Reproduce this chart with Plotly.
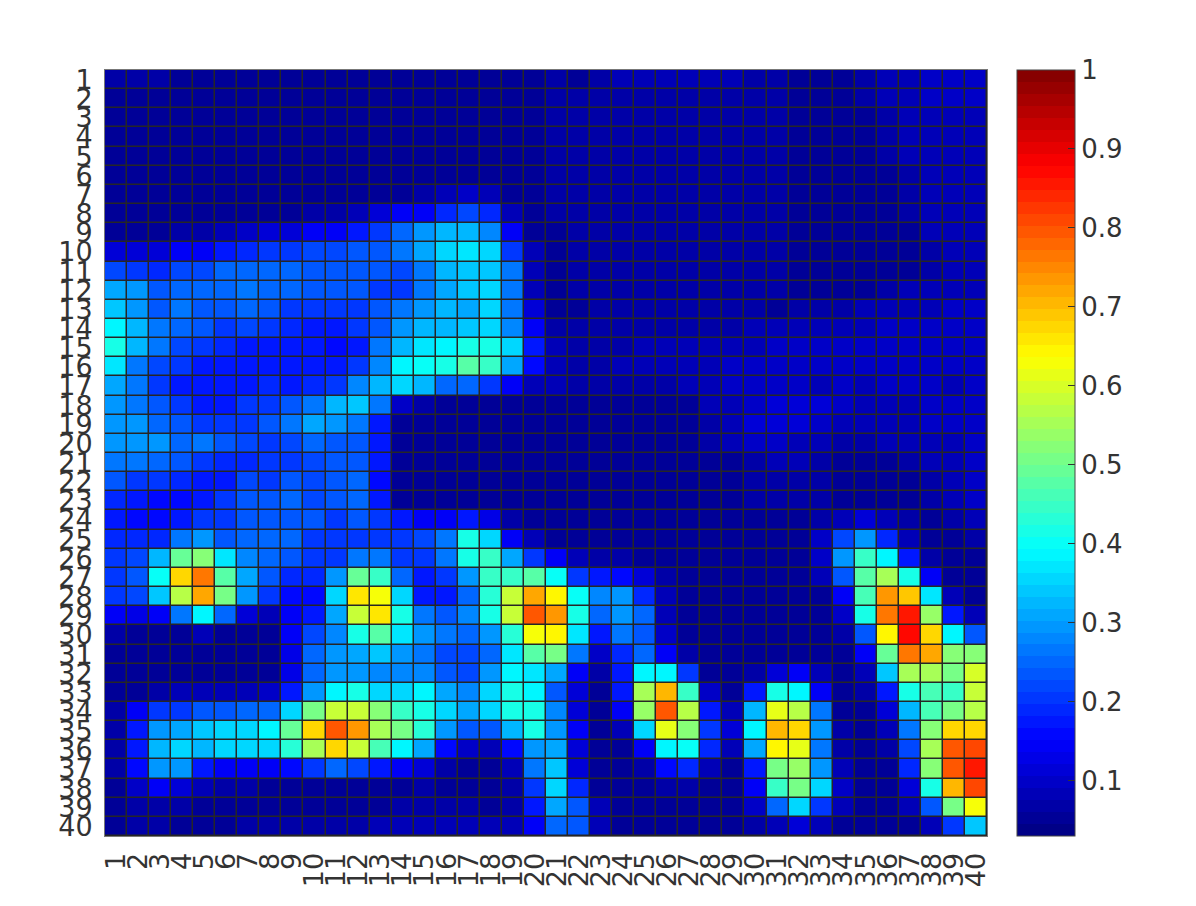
import plotly.graph_objects as go

### Tick labels ###
labels = [str(i) for i in range(1, 41)]
cbar_ticks = [0.1, 0.2, 0.3, 0.4, 0.5, 0.6, 0.7, 0.8, 0.9, 1]
cbar_text = ["0.1", "0.2", "0.3", "0.4", "0.5", "0.6", "0.7", "0.8", "0.9", "1"]

### Matrix rows, left half + right half ###
r01 = [.07,.07,.07,.06,.06,.06,.06,.06,.06,.06,.06,.06,.06,.06,.06,.06,.06,.06,.06,.06] + [.07,.06,.07,.08,.08,.08,.08,.08,.08,.07,.07,.06,.06,.06,.07,.08,.09,.10,.10,.10]
r02 = [.06,.06,.06,.06,.06,.06,.06,.06,.06,.06,.06,.06,.06,.06,.06,.06,.06,.06,.06,.06] + [.07,.07,.07,.07,.07,.07,.07,.07,.07,.07,.07,.06,.06,.06,.07,.08,.09,.10,.10,.10]
r03 = [.06,.06,.06,.06,.06,.06,.06,.06,.06,.06,.06,.06,.06,.06,.06,.06,.06,.06,.06,.06] + [.07,.07,.07,.07,.07,.07,.07,.07,.07,.07,.07,.06,.06,.06,.06,.07,.08,.09,.09,.09]
r04 = [.06,.06,.06,.06,.06,.06,.06,.06,.06,.06,.06,.06,.06,.06,.06,.06,.06,.06,.06,.06] + [.07,.07,.07,.07,.07,.07,.07,.07,.07,.07,.07,.06,.06,.06,.06,.07,.08,.09,.09,.09]
r05 = [.06,.06,.06,.06,.06,.06,.06,.06,.06,.06,.06,.06,.06,.06,.06,.06,.06,.06,.06,.06] + [.07,.07,.07,.07,.07,.07,.07,.07,.07,.07,.07,.06,.06,.06,.06,.07,.08,.09,.09,.09]
r06 = [.06,.06,.06,.06,.06,.06,.06,.06,.06,.06,.06,.06,.06,.05,.05,.05,.06,.06,.06,.06] + [.07,.07,.07,.07,.07,.07,.07,.07,.07,.07,.07,.06,.06,.06,.05,.06,.07,.09,.09,.09]
r07 = [.06,.06,.06,.06,.06,.06,.06,.06,.05,.05,.05,.05,.06,.06,.07,.09,.10,.09,.06,.05] + [.07,.07,.07,.07,.07,.07,.07,.07,.07,.07,.07,.06,.06,.06,.05,.06,.07,.09,.09,.09]
r08 = [.06,.05,.05,.05,.05,.05,.05,.06,.06,.07,.07,.08,.11,.14,.15,.19,.22,.19,.09,.05] + [.07,.07,.07,.07,.07,.07,.07,.07,.07,.07,.07,.06,.06,.06,.05,.06,.07,.09,.09,.09]
r09 = [.06,.06,.06,.07,.07,.08,.10,.11,.12,.14,.15,.17,.20,.25,.29,.33,.33,.28,.14,.06] + [.06,.07,.07,.07,.07,.07,.07,.07,.07,.07,.07,.06,.06,.06,.05,.05,.06,.09,.09,.09]
r10 = [.11,.11,.12,.14,.15,.17,.19,.21,.21,.22,.22,.24,.24,.27,.31,.35,.37,.35,.20,.09] + [.06,.07,.07,.07,.07,.07,.07,.07,.07,.07,.07,.06,.06,.06,.05,.05,.06,.07,.09,.09]
r11 = [.22,.21,.19,.22,.22,.25,.25,.25,.25,.24,.24,.24,.23,.22,.26,.32,.34,.34,.27,.09] + [.06,.07,.07,.07,.07,.07,.07,.07,.07,.07,.07,.06,.06,.06,.05,.05,.06,.07,.09,.09]
r12 = [.31,.29,.24,.25,.25,.25,.26,.25,.25,.23,.24,.24,.21,.20,.26,.31,.34,.35,.27,.09] + [.06,.07,.07,.07,.07,.07,.07,.07,.07,.07,.07,.06,.06,.06,.06,.07,.08,.08,.09,.09]
r13 = [.34,.30,.24,.26,.24,.24,.25,.24,.21,.20,.20,.20,.23,.26,.30,.32,.31,.35,.27,.11] + [.06,.05,.07,.07,.07,.07,.07,.07,.07,.07,.06,.07,.07,.07,.08,.08,.08,.09,.10,.10]
r14 = [.39,.32,.27,.25,.24,.21,.22,.21,.19,.17,.17,.20,.24,.30,.33,.32,.34,.36,.28,.14] + [.07,.07,.07,.07,.07,.07,.07,.07,.07,.08,.08,.08,.08,.08,.09,.10,.10,.10,.10,.10]
r15 = [.41,.32,.27,.22,.21,.19,.18,.18,.18,.18,.16,.18,.26,.32,.37,.38,.41,.41,.36,.18] + [.09,.07,.07,.07,.08,.08,.08,.09,.09,.09,.10,.10,.10,.10,.10,.10,.10,.10,.10,.10]
r16 = [.37,.27,.22,.20,.18,.17,.18,.18,.18,.17,.18,.20,.28,.38,.40,.42,.47,.45,.31,.16] + [.09,.07,.07,.08,.08,.08,.08,.09,.10,.10,.10,.10,.10,.10,.10,.10,.10,.10,.10,.10]
r17 = [.31,.27,.21,.18,.17,.17,.18,.19,.18,.19,.21,.28,.32,.35,.32,.25,.25,.21,.15,.09] + [.08,.07,.07,.07,.07,.07,.08,.09,.10,.10,.10,.10,.09,.10,.09,.10,.10,.10,.09,.10]
r18 = [.29,.27,.24,.20,.17,.17,.20,.20,.24,.26,.32,.34,.27,.10,.07,.05,.05,.05,.05,.05] + [.06,.06,.06,.05,.05,.05,.05,.08,.09,.10,.11,.11,.11,.10,.09,.09,.09,.10,.10,.10]
r19 = [.29,.30,.25,.24,.20,.20,.21,.24,.27,.31,.29,.27,.18,.05,.05,.05,.05,.05,.05,.05] + [.06,.06,.06,.05,.05,.05,.05,.07,.09,.11,.12,.11,.10,.09,.08,.08,.09,.10,.10,.10]
r20 = [.30,.30,.29,.25,.26,.24,.22,.20,.22,.25,.24,.24,.17,.05,.05,.05,.05,.05,.05,.05] + [.05,.05,.05,.05,.05,.05,.05,.07,.09,.10,.10,.09,.08,.07,.07,.08,.09,.09,.09,.10]
r21 = [.27,.27,.25,.23,.20,.19,.19,.21,.21,.22,.23,.23,.17,.05,.05,.05,.05,.05,.05,.05] + [.05,.05,.05,.05,.05,.05,.05,.05,.06,.07,.08,.08,.07,.06,.06,.06,.07,.08,.09,.10]
r22 = [.23,.20,.20,.19,.18,.17,.22,.21,.23,.22,.24,.25,.16,.05,.05,.05,.05,.05,.05,.05] + [.05,.05,.05,.05,.05,.05,.05,.05,.06,.07,.07,.07,.07,.06,.06,.06,.06,.07,.09,.10]
r23 = [.19,.18,.16,.16,.18,.21,.23,.24,.25,.22,.24,.25,.18,.05,.05,.05,.05,.05,.05,.05] + [.05,.05,.05,.05,.05,.05,.05,.05,.06,.07,.07,.07,.07,.06,.06,.06,.06,.07,.09,.10]
r24 = [.17,.16,.16,.18,.20,.21,.23,.24,.24,.23,.21,.23,.21,.18,.15,.14,.17,.13,.07,.05] + [.05,.05,.05,.05,.06,.06,.06,.06,.06,.06,.06,.06,.07,.09,.11,.08,.07,.06,.07,.08]
r25 = [.19,.19,.19,.27,.29,.24,.25,.25,.25,.21,.20,.20,.21,.20,.22,.27,.41,.35,.15,.09] + [.06,.06,.05,.06,.06,.06,.06,.06,.06,.06,.06,.06,.10,.22,.30,.19,.08,.05,.06,.07]
r26 = [.20,.22,.33,.49,.53,.37,.28,.25,.24,.20,.21,.27,.26,.20,.20,.27,.41,.44,.31,.20] + [.14,.08,.07,.07,.06,.06,.05,.06,.06,.06,.06,.06,.10,.29,.44,.39,.18,.07,.05,.05]
r27 = [.20,.24,.40,.68,.76,.48,.31,.23,.19,.19,.30,.49,.45,.25,.17,.20,.30,.44,.45,.47] + [.40,.21,.17,.16,.11,.07,.06,.06,.06,.06,.06,.05,.08,.24,.48,.55,.41,.15,.06,.05]
r28 = [.20,.22,.34,.57,.72,.50,.29,.20,.16,.16,.35,.66,.63,.35,.17,.17,.25,.43,.58,.72] + [.65,.40,.28,.29,.19,.09,.06,.06,.06,.06,.06,.05,.06,.15,.46,.73,.69,.37,.09,.05]
r29 = [.14,.13,.15,.27,.39,.25,.11,.09,.14,.18,.31,.58,.66,.42,.27,.24,.28,.41,.58,.79] + [.73,.41,.25,.30,.25,.09,.05,.06,.06,.06,.06,.06,.05,.10,.41,.76,.85,.54,.17,.08]
r30 = [.07,.06,.05,.06,.09,.06,.05,.06,.14,.22,.28,.42,.47,.37,.30,.27,.25,.30,.43,.63] + [.65,.37,.18,.26,.24,.10,.05,.05,.05,.06,.06,.05,.05,.07,.23,.64,.87,.68,.38,.23]
r31 = [.05,.05,.05,.05,.05,.05,.05,.06,.13,.25,.30,.31,.34,.30,.27,.22,.22,.25,.37,.47] + [.50,.27,.10,.19,.25,.15,.07,.05,.05,.05,.05,.06,.05,.06,.14,.49,.77,.72,.53,.52]
r32 = [.05,.05,.05,.05,.05,.05,.05,.06,.13,.25,.29,.29,.28,.28,.28,.24,.22,.30,.38,.37] + [.31,.15,.07,.17,.38,.38,.20,.06,.05,.07,.11,.14,.08,.05,.08,.34,.56,.55,.50,.60]
r33 = [.05,.06,.07,.09,.09,.08,.09,.10,.17,.30,.38,.41,.36,.35,.38,.31,.28,.35,.41,.38] + [.24,.12,.06,.18,.55,.70,.45,.10,.05,.17,.41,.38,.15,.05,.07,.17,.41,.46,.44,.58]
r34 = [.07,.14,.20,.21,.23,.23,.25,.25,.35,.50,.58,.58,.52,.44,.42,.35,.31,.35,.41,.42] + [.28,.12,.05,.14,.54,.79,.57,.17,.08,.32,.62,.57,.26,.06,.06,.11,.33,.46,.51,.57]
r35 = [.07,.18,.29,.31,.34,.36,.36,.39,.49,.67,.80,.74,.56,.50,.43,.30,.24,.24,.33,.42] + [.30,.15,.06,.09,.35,.62,.53,.21,.11,.38,.71,.67,.30,.07,.05,.08,.26,.52,.67,.68]
r36 = [.07,.18,.33,.36,.32,.35,.36,.36,.43,.55,.67,.59,.46,.39,.31,.16,.10,.09,.16,.30] + [.31,.12,.05,.06,.14,.38,.40,.19,.09,.31,.65,.61,.26,.07,.05,.07,.22,.56,.79,.81]
r37 = [.07,.16,.29,.29,.18,.15,.15,.15,.16,.21,.25,.22,.17,.15,.12,.07,.06,.06,.08,.26] + [.34,.12,.05,.06,.07,.16,.19,.09,.06,.18,.51,.54,.30,.08,.05,.05,.19,.53,.80,.86]
r38 = [.06,.10,.14,.12,.09,.07,.07,.06,.06,.06,.06,.06,.06,.06,.07,.06,.06,.06,.07,.20] + [.36,.19,.06,.05,.05,.07,.07,.06,.06,.14,.44,.50,.35,.10,.05,.05,.11,.41,.71,.81]
r39 = [.05,.07,.07,.07,.06,.05,.06,.06,.06,.06,.05,.05,.05,.07,.07,.07,.07,.06,.07,.17] + [.31,.23,.08,.05,.05,.06,.06,.05,.05,.10,.25,.35,.20,.08,.05,.05,.08,.23,.50,.63]
r40 = [.05,.07,.07,.06,.06,.06,.07,.07,.07,.07,.07,.07,.08,.09,.09,.09,.08,.08,.08,.14] + [.25,.23,.09,.06,.06,.06,.06,.05,.05,.07,.09,.11,.08,.06,.05,.05,.05,.09,.21,.34]

z = [r01, r02, r03, r04, r05, r06, r07, r08, r09, r10,
     r11, r12, r13, r14, r15, r16, r17, r18, r19, r20,
     r21, r22, r23, r24, r25, r26, r27, r28, r29, r30,
     r31, r32, r33, r34, r35, r36, r37, r38, r39, r40]

### 64 step jet colormap, like matlab ###
def jet(t):
    r = min(max(min(4 * t - 1.5, -4 * t + 4.5), 0), 1)
    g = min(max(min(4 * t - 0.5, -4 * t + 3.5), 0), 1)
    b = min(max(min(4 * t + 0.5, -4 * t + 2.5), 0), 1)
    return "rgb(%d,%d,%d)" % (r * 255, g * 255, b * 255)

n = 64
scale = []
for i in range(n):
    c = jet((i + 0.5) / n)
    scale.append([i / n, c])
    scale.append([(i + 1) / n, c])

text_color = "#333333"

fig = go.Figure(go.Heatmap(
    z=z,
    x=labels,
    y=labels,
    zmin=0.03,
    zmax=1,
    colorscale=scale,
    xgap=1.5,
    ygap=1.5,
    colorbar=dict(
        x=1.034, xanchor="left", thickness=58, len=1, y=0.5, yanchor="middle",
        tickmode="array", tickvals=cbar_ticks, ticktext=cbar_text,
        tickprefix="\u00a0",
        ticks="inside", ticklen=7, tickcolor=text_color, tickwidth=1,
        tickfont=dict(family="DejaVu Sans", size=26, color=text_color),
        outlinecolor="#444444", outlinewidth=1, xpad=0, ypad=0,
    ),
))

# ticks are invisible, they only push the labels away from the axes
fig.update_xaxes(
    type="category", tickmode="array", tickvals=labels, ticktext=labels,
    tickangle=-90, ticks="outside", ticklen=5, tickcolor="rgba(0,0,0,0)", showgrid=False, zeroline=False,
    showline=True, linecolor="#777777", mirror=True,
    tickfont=dict(family="DejaVu Sans", size=27, color=text_color),
)
fig.update_yaxes(
    type="category", autorange="reversed", tickmode="array", tickvals=labels, ticktext=labels,
    ticks="outside", ticklen=6, tickcolor="rgba(0,0,0,0)", showgrid=False, zeroline=False,
    showline=True, linecolor="#777777", mirror=True,
    tickfont=dict(family="DejaVu Sans", size=27, color=text_color),
)
fig.update_layout(
    width=1180, height=890,
    margin=dict(l=97, r=201, t=62, b=62, pad=0),
    paper_bgcolor="white",
    plot_bgcolor="#262626",
)

fig.write_html("out.html")
